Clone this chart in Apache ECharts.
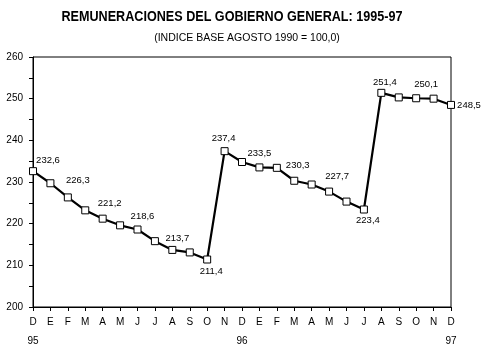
<!DOCTYPE html>
<html>
<head>
<meta charset="utf-8">
<script src="https://cdn.jsdelivr.net/npm/echarts@6/dist/echarts.min.js"></script>
<style>
html,body{margin:0;padding:0;background:#fff;}
#chart{width:489px;height:357px;}
</style>
</head>
<body>
<div id="chart"></div>
<script>
var months = ['D','E','F','M','A','M','J','J','A','S','O','N','D','E','F','M','A','M','J','J','A','S','O','N','D'];
var years  = ['95','','','','','','','','','','','','96','','','','','','','','','','','','97'];
var values = [232.6,229.7,226.3,223.2,221.2,219.6,218.6,215.8,213.7,213.1,211.4,
              237.4,234.8,233.5,233.4,230.3,229.4,227.7,225.3,223.4,
              251.4,250.3,250.1,250.0,248.5];
var yTicks = [200,210,220,230,240,250,260];

var titleText = 'REMUNERACIONES DEL GOBIERNO GENERAL: 1995-97';
var subtitleText = '(INDICE BASE AGOSTO 1990 = 100,0)';

// which points carry a value label, and where the label sits relative to the marker
var labelOffsets = {
  0:[15,-11], 2:[10,-17], 4:[7,-15], 6:[5,-13], 8:[5,-12], 10:[4,11.5],
  11:[-1,-12.5], 13:[0,-14], 15:[3.5,-15.5], 17:[8,-15], 19:[4,11],
  20:[3.5,-10], 22:[10,-14], 24:[18,0]
};

var FONT = '"Liberation Sans", Arial, sans-serif';

var seriesData = values.map(function(v, i){
  var item = {value: v};
  if (labelOffsets[i]) {
    item.label = {
      show: true,
      position: 'inside',
      offset: labelOffsets[i],
      formatter: String(v.toFixed(1)).replace('.', ','),
      color: '#000',
      fontSize: 9.5,
      fontFamily: FONT,
      align: 'center',
      verticalAlign: 'middle'
    };
  }
  return item;
});

var chart = echarts.init(document.getElementById('chart'), null, {renderer: 'canvas'});
chart.setOption({
  animation: false,
  backgroundColor: '#fff',
  graphic: [
    {type:'text', x:232, y:17, scaleX:0.9, z:10,
     style:{text: titleText, x:0, y:0, textAlign:'center', textVerticalAlign:'middle',
            font: 'bold 14px ' + FONT, fill:'#000'}},
    {type:'text', x:247, y:38,
     style:{text: subtitleText, x:0, y:0, textAlign:'center', textVerticalAlign:'middle',
            font: '10.5px ' + FONT, fill:'#000'}}
  ],
  grid: {left: 33, right: 38, top: 57, bottom: 50, show: true, borderColor: '#000', borderWidth: 1, backgroundColor: 'transparent'},
  xAxis: {
    type: 'category',
    boundaryGap: false,
    data: months.map(function(m, i){ return years[i] ? m + '\n' + years[i] : m; }),
    axisLine: {lineStyle: {color: '#000', width: 1}},
    axisTick: {show: true, interval: 0, length: 4, inside: false, lineStyle: {color:'#000'}},
    axisLabel: {interval: 0, color: '#000', fontSize: 10, fontFamily: FONT, lineHeight: 19, margin: 6},
    splitLine: {show: false}
  },
  yAxis: {
    type: 'value',
    min: yTicks[0], max: yTicks[yTicks.length-1], interval: 10,
    axisLine: {show: true, lineStyle: {color: '#000', width: 1}},
    axisTick: {show: true, length: 4, lineStyle: {color:'#000'}},
    minorTick: {show: true, splitNumber: 2, length: 4, lineStyle: {color:'#000'}},
    axisLabel: {color: '#000', fontSize: 10, fontFamily: FONT, margin: 10},
    splitLine: {show: false}
  },
  series: [{
    type: 'line',
    data: seriesData,
    symbol: 'rect',
    symbolSize: 7,
    showAllSymbol: true,
    lineStyle: {color: '#000', width: 2.2},
    itemStyle: {color: '#fff', borderColor: '#000', borderWidth: 1},
    label: {show: false},
    emphasis: {disabled: true}
  }]
});
</script>
</body>
</html>
